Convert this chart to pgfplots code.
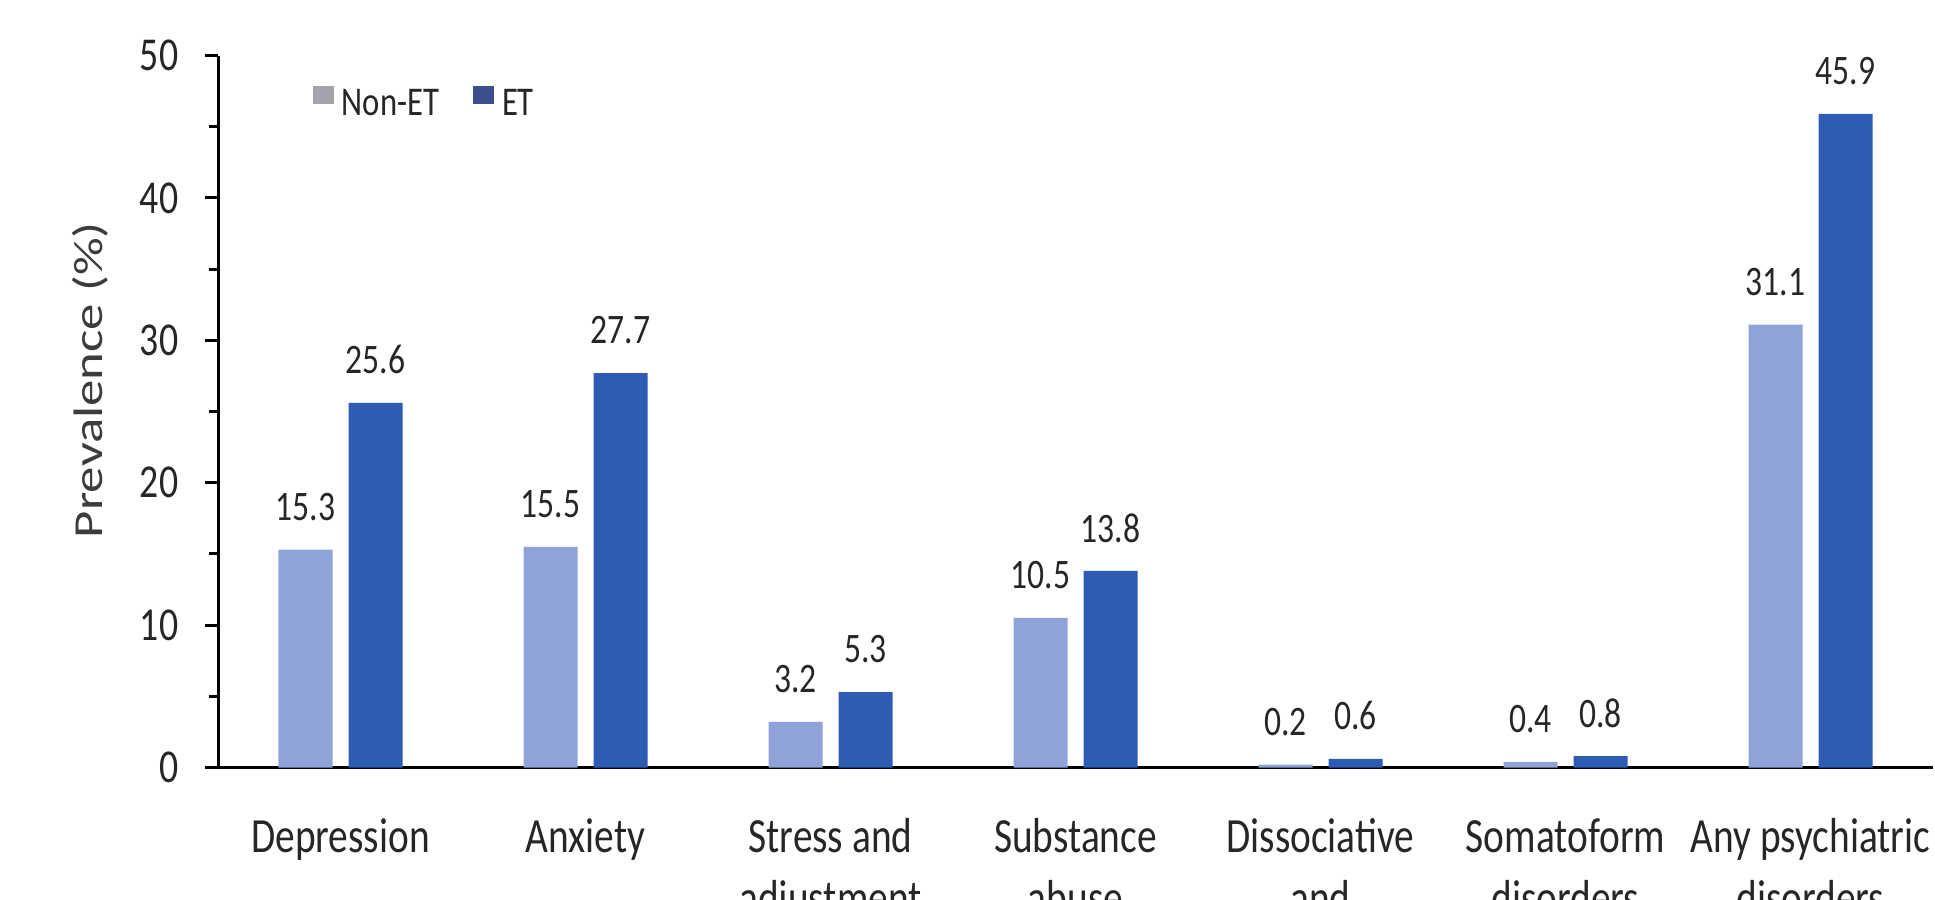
\documentclass[border=0pt]{standalone}
\usepackage{pgfplots}
\pgfplotsset{compat=1.18}
\usepackage{fontspec}
\setmainfont{Carlito}
\newfontfamily\narrowfont{Carlito}[FakeStretch=0.8]
\definecolor{nonet}{HTML}{8FA3D9}
\definecolor{et}{HTML}{2E5CB5}
\definecolor{nonetkey}{HTML}{A3A3AB}
\definecolor{etkey}{HTML}{3C4F8E}
\definecolor{txt}{HTML}{262626}

\begin{document}
\begin{tikzpicture}
\useasboundingbox (-54.5bp,-33.125bp) rectangle (429.25bp,191.875bp);
\clip (-54.5bp,-33.125bp) rectangle (429.25bp,191.875bp);
\begin{axis}[
  overlay,
  at={(0,0)}, anchor=south west,
  scale only axis,
  width=428.75bp, height=178bp,
  xmin=-0.5, xmax=6.5, ymin=0, ymax=50,
  axis lines*=left,
  axis line style={black, line width=0.75bp},
  ybar=4bp, bar width=13.5bp,
  xtick={0,1,2,3,4,5,6},
  xticklabels={Depression, Anxiety, {Stress and\\adjustment}, {Substance\\abuse},
               {Dissociative\\and}, {Somatoform\\disorders}, {Any psychiatric\\disorders}},
  xtick style={draw=none},
  ytick={0,10,...,50},
  minor ytick={5,15,...,45},
  ytick style={black, line width=0.75bp},
  minor tick style={black, line width=0.75bp},
  tick align=outside,
  major tick length=3.25bp, minor tick length=2.25bp,
  /pgf/number format/assume math mode=true,
  yticklabel style={font=\narrowfont\fontsize{11.8bp}{13bp}\selectfont, text=txt,
                    anchor=east, inner sep=0pt, xshift=-6.5bp},
  xticklabel style={font=\narrowfont\fontsize{12.3bp}{15.5bp}\selectfont, text=txt,
                    align=center, anchor=north, inner sep=0pt, yshift=-9.25bp},
  ylabel={Prevalence (\%)},
  every axis y label/.style={at={(axis description cs:-0.0747,0.544)},
                    anchor=center, rotate=90, yscale=0.78,
                    font=\fontsize{13.2bp}{15bp}\selectfont, text=txt!90},
  legend style={at={(rel axis cs:0.0548,0.932)}, anchor=west, draw=none, fill=none,
                inner sep=0pt, legend columns=2,
                font=\narrowfont\fontsize{10.2bp}{12bp}\selectfont, text=txt,
                nodes={inner xsep=2bp, inner ysep=0pt},
                /tikz/every even column/.append style={column sep=6.5bp}},
  legend image code/.code={\fill[#1] (0bp,0.5bp) rectangle (5.25bp,5bp);},
  nodes near coords={\pgfmathprintnumber[fixed,fixed zerofill,precision=1]{\pgfplotspointmeta}},
  every node near coord/.append style={font=\narrowfont\fontsize{10.5bp}{12bp}\selectfont,
                    text=txt, anchor=center, yshift=10.75bp},
]
\addplot[fill=nonet, draw=none, legend image post style={fill=nonetkey}]
  coordinates {(0,15.3) (1,15.5) (2,3.2) (3,10.5) (4,0.2) (5,0.4) (6,31.1)};
\addplot[fill=et, draw=none, legend image post style={fill=etkey}]
  coordinates {(0,25.6) (1,27.7) (2,5.3) (3,13.8) (4,0.6) (5,0.8) (6,45.9)};
\legend{Non-ET, ET}
\end{axis}
\end{tikzpicture}
\end{document}
